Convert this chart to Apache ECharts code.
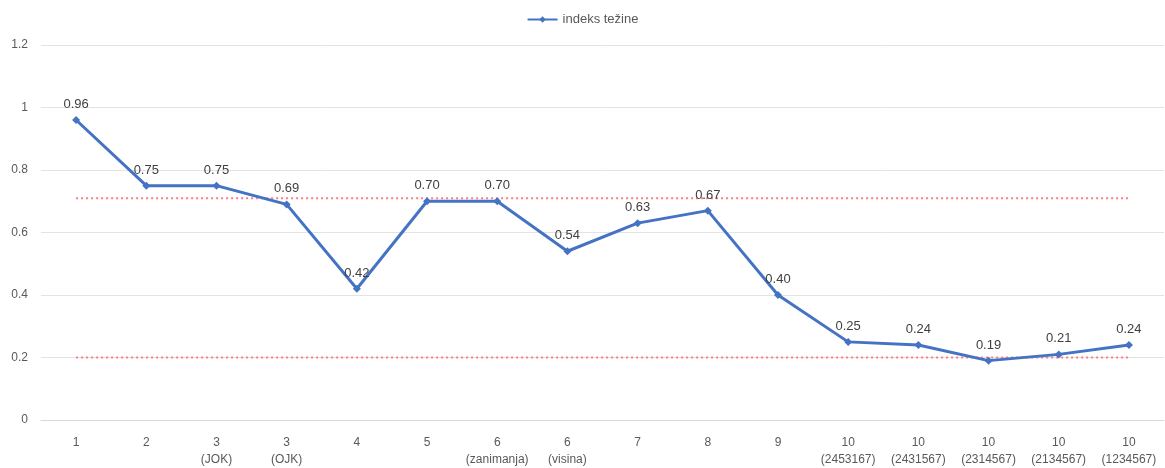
<!DOCTYPE html>
<html>
<head>
<meta charset="utf-8">
<script src="https://cdn.jsdelivr.net/npm/echarts@6/dist/echarts.min.js"></script>
<style>html,body{margin:0;padding:0;background:#fff}#c{width:1165px;height:468px}</style>
</head>
<body>
<div id="c"></div>
<script>
const categories = ['1','2','3\n(JOK)','3\n(OJK)','4','5','6\n(zanimanja)','6\n(visina)','7','8','9','10\n(2453167)','10\n(2431567)','10\n(2314567)','10\n(2134567)','10\n(1234567)'];
const indeksTezine = [0.96,0.75,0.75,0.69,0.42,0.70,0.70,0.54,0.63,0.67,0.40,0.25,0.24,0.19,0.21,0.24];
const upperLimit = [0.71,0.71,0.71,0.71,0.71,0.71,0.71,0.71,0.71,0.71,0.71,0.71,0.71,0.71,0.71,0.71];
const lowerLimit = [0.20,0.20,0.20,0.20,0.20,0.20,0.20,0.20,0.20,0.20,0.20,0.20,0.20,0.20,0.20,0.20];
const yTicks = {min:0, max:1.2, interval:0.2};

const font = 'Liberation Sans';
const chart = echarts.init(document.getElementById('c'));
chart.setOption({
  animation:false,
  textStyle:{fontFamily:font},
  legend:{data:['indeks težine'], top:8, left:'center', itemWidth:30, itemHeight:8, itemGap:5,
    textStyle:{color:'#595959', fontSize:13, fontFamily:font}},
  grid:{left:41, right:1, top:45, bottom:47, containLabel:false},
  xAxis:{type:'category', data:categories, boundaryGap:true,
    axisLine:{lineStyle:{color:'#d9d9d9'}}, axisTick:{show:false},
    axisLabel:{color:'#595959', fontSize:12, margin:14, lineHeight:17, interval:0, fontFamily:font}},
  yAxis:{type:'value', min:yTicks.min, max:yTicks.max, interval:yTicks.interval,
    axisLine:{show:false}, axisTick:{show:false},
    splitLine:{lineStyle:{color:'#e3e3e3', width:1}},
    axisLabel:{color:'#595959', fontSize:12, margin:13, fontFamily:font}},
  series:[
    {name:'upper', type:'line', data:upperLimit, symbol:'none', silent:true, z:1,
      lineStyle:{color:'#FF7C80', width:2, type:[2,3]}},
    {name:'lower', type:'line', data:lowerLimit, symbol:'none', silent:true, z:1,
      lineStyle:{color:'#FF7C80', width:2, type:[2,3]}},
    {name:'indeks težine', type:'line', data:indeksTezine, z:3,
      symbol:'diamond', symbolSize:8, showAllSymbol:true,
      lineStyle:{color:'#4472C4', width:3},
      itemStyle:{color:'#4472C4'},
      label:{show:true, position:'top', distance:5, color:'#404040', fontSize:13, fontFamily:font,
        formatter:p=>p.value.toFixed(2)}}
  ]
});
</script>
</body>
</html>
